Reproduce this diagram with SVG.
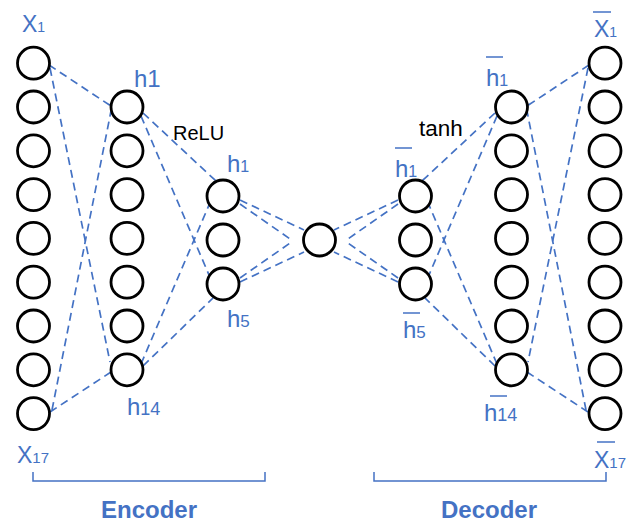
<svg xmlns="http://www.w3.org/2000/svg" width="633" height="523" viewBox="0 0 633 523">
<style>
.bg{fill:#ffffff}
.n{fill:#ffffff;stroke:#000000;stroke-width:2.8}
.c{stroke:#4472C4;stroke-width:1.7;stroke-dasharray:8 5;fill:none}
.lb{font-family:"Liberation Sans",Arial,sans-serif;fill:#4472C4}
.act{font-family:"Liberation Sans",Arial,sans-serif;fill:#000000}
.ol{stroke:#4472C4;stroke-width:1.5}
.br{stroke:#4472C4;stroke-width:1.5;fill:none}
.tt{font-family:"Liberation Sans",Arial,sans-serif;fill:#4472C4;font-weight:bold;font-size:24px;text-anchor:middle}
</style>
<rect class="bg" x="0" y="0" width="633" height="523"/>
<g id="connectors">
  <line class="c" x1="49" y1="65" x2="111" y2="106"/>
  <line class="c" x1="50" y1="68" x2="110" y2="362"/>
  <line class="c" x1="52" y1="410" x2="111" y2="111"/>
  <line class="c" x1="50" y1="412" x2="111" y2="372"/>
  <line class="c" x1="143" y1="113" x2="216" y2="181"/>
  <line class="c" x1="141" y1="116" x2="209" y2="275"/>
  <line class="c" x1="141" y1="364" x2="209" y2="205"/>
  <line class="c" x1="143" y1="366" x2="213" y2="298"/>
  <line class="c" x1="240" y1="200" x2="304" y2="230"/>
  <line class="c" x1="240" y1="204" x2="293" y2="241"/>
  <line class="c" x1="240" y1="278" x2="293" y2="241"/>
  <line class="c" x1="240" y1="282" x2="304" y2="252"/>
  <line class="c" x1="398" y1="200" x2="334" y2="230"/>
  <line class="c" x1="398" y1="204" x2="345" y2="241"/>
  <line class="c" x1="398" y1="278" x2="345" y2="241"/>
  <line class="c" x1="398" y1="282" x2="334" y2="252"/>
  <line class="c" x1="495" y1="113" x2="422" y2="181"/>
  <line class="c" x1="497" y1="116" x2="429" y2="275"/>
  <line class="c" x1="497" y1="364" x2="429" y2="205"/>
  <line class="c" x1="495" y1="366" x2="425" y2="298"/>
  <line class="c" x1="589" y1="65" x2="527" y2="106"/>
  <line class="c" x1="588" y1="68" x2="528" y2="362"/>
  <line class="c" x1="586" y1="410" x2="527" y2="111"/>
  <line class="c" x1="588" y1="412" x2="527" y2="372"/>
</g>
<g id="input">
  <circle class="n" cx="33.5" cy="63.2" r="16"/>
  <circle class="n" cx="33.5" cy="107" r="16"/>
  <circle class="n" cx="33.5" cy="150.8" r="16"/>
  <circle class="n" cx="33.5" cy="194.6" r="16"/>
  <circle class="n" cx="33.5" cy="238.4" r="16"/>
  <circle class="n" cx="33.5" cy="282.2" r="16"/>
  <circle class="n" cx="33.5" cy="326" r="16"/>
  <circle class="n" cx="33.5" cy="369.8" r="16"/>
  <circle class="n" cx="33.5" cy="413.6" r="16"/>
</g>
<g id="enc-hidden1">
  <circle class="n" cx="127" cy="107" r="16"/>
  <circle class="n" cx="127" cy="150.8" r="16"/>
  <circle class="n" cx="127" cy="194.6" r="16"/>
  <circle class="n" cx="127" cy="238.4" r="16"/>
  <circle class="n" cx="127" cy="282.2" r="16"/>
  <circle class="n" cx="127" cy="326" r="16"/>
  <circle class="n" cx="127" cy="369.8" r="16"/>
</g>
<g id="enc-hidden2">
  <circle class="n" cx="223" cy="196" r="16"/>
  <circle class="n" cx="223" cy="240" r="16"/>
  <circle class="n" cx="223" cy="284" r="16"/>
</g>
<g id="bottleneck">
  <circle class="n" cx="319.5" cy="240" r="16"/>
</g>
<g id="dec-hidden1">
  <circle class="n" cx="415.5" cy="196" r="16"/>
  <circle class="n" cx="415.5" cy="240" r="16"/>
  <circle class="n" cx="415.5" cy="284" r="16"/>
</g>
<g id="dec-hidden2">
  <circle class="n" cx="511.5" cy="107" r="16"/>
  <circle class="n" cx="511.5" cy="150.8" r="16"/>
  <circle class="n" cx="511.5" cy="194.6" r="16"/>
  <circle class="n" cx="511.5" cy="238.4" r="16"/>
  <circle class="n" cx="511.5" cy="282.2" r="16"/>
  <circle class="n" cx="511.5" cy="326" r="16"/>
  <circle class="n" cx="511.5" cy="369.8" r="16"/>
</g>
<g id="output">
  <circle class="n" cx="605" cy="63.2" r="16"/>
  <circle class="n" cx="605" cy="107" r="16"/>
  <circle class="n" cx="605" cy="150.8" r="16"/>
  <circle class="n" cx="605" cy="194.6" r="16"/>
  <circle class="n" cx="605" cy="238.4" r="16"/>
  <circle class="n" cx="605" cy="282.2" r="16"/>
  <circle class="n" cx="605" cy="326" r="16"/>
  <circle class="n" cx="605" cy="369.8" r="16"/>
  <circle class="n" cx="605" cy="413.6" r="16"/>
</g>
<g id="labels">
  <text class="lb" x="22" y="32" font-size="23">X<tspan font-size="14">1</tspan></text>
  <text class="lb" x="134" y="87" font-size="24">h1</text>
  <text class="act" x="173" y="140" font-size="20">ReLU</text>
  <text class="lb" x="227" y="172" font-size="24">h<tspan font-size="16">1</tspan></text>
  <text class="lb" x="227" y="327" font-size="24">h<tspan font-size="17">5</tspan></text>
  <text class="lb" x="127" y="415" font-size="24">h<tspan font-size="18">14</tspan></text>
  <text class="lb" x="17" y="463" font-size="23">X<tspan font-size="15">17</tspan></text>

  <text class="lb" x="594" y="37" font-size="23">X<tspan font-size="14">1</tspan></text>
  <line class="ol" x1="593" y1="12" x2="611" y2="12"/>
  <text class="lb" x="486" y="86" font-size="24">h<tspan font-size="16">1</tspan></text>
  <line class="ol" x1="486" y1="57" x2="503" y2="57"/>
  <text class="act" x="419" y="136" font-size="22.5">tanh</text>
  <text class="lb" x="395" y="177" font-size="24">h<tspan font-size="16">1</tspan></text>
  <line class="ol" x1="395" y1="148" x2="412" y2="148"/>
  <text class="lb" x="403" y="338" font-size="24">h<tspan font-size="17">5</tspan></text>
  <line class="ol" x1="403" y1="313" x2="420" y2="313"/>
  <text class="lb" x="484" y="421" font-size="24">h<tspan font-size="18">14</tspan></text>
  <line class="ol" x1="490" y1="396" x2="507" y2="396"/>
  <text class="lb" x="594" y="468" font-size="23">X<tspan font-size="15">17</tspan></text>
  <line class="ol" x1="597" y1="442" x2="615" y2="442"/>
</g>
<g id="encoder-bracket">
  <path class="br" d="M33,472 V481 H265 V472"/>
  <text class="tt" x="149" y="518">Encoder</text>
</g>
<g id="decoder-bracket">
  <path class="br" d="M374,472 V481 H606 V472"/>
  <text class="tt" x="489" y="518">Decoder</text>
</g>
</svg>
